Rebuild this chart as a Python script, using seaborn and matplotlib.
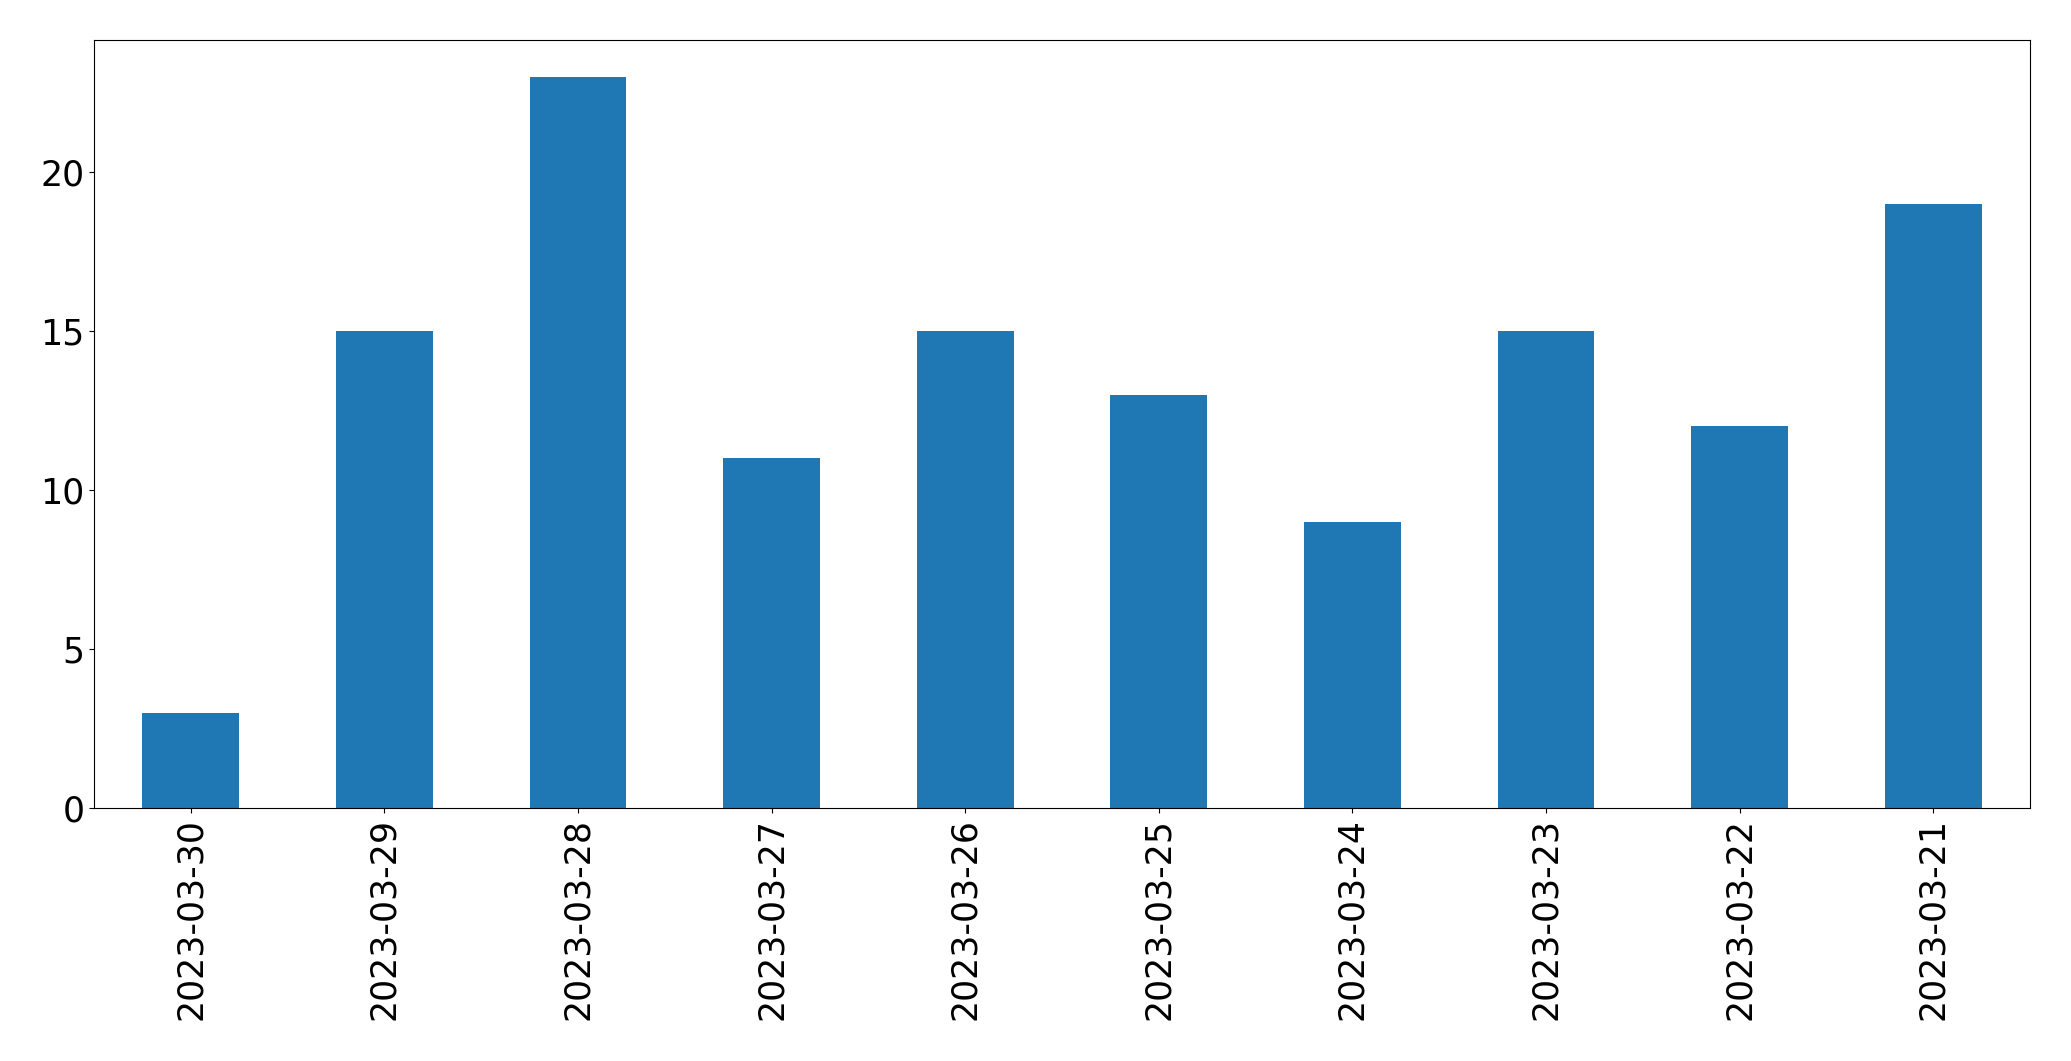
import matplotlib
matplotlib.use("Agg")
import matplotlib.pyplot as plt
import seaborn as sns
import pandas as pd

dates = ["2023-03-30", "2023-03-29", "2023-03-28", "2023-03-27", "2023-03-26",
         "2023-03-25", "2023-03-24", "2023-03-23", "2023-03-22", "2023-03-21"]
counts = [3, 15, 23, 11, 15, 13, 9, 15, 12, 19]

df = pd.DataFrame({"date": dates, "count": counts})

fig = plt.figure(figsize=(20.71, 10.61), dpi=100)
ax = fig.add_axes([94 / 2071, 1 - 808 / 1061, (2030 - 94) / 2071, (808 - 40) / 1061])
sns.barplot(data=df, x="date", y="count", order=dates, color="#1f77b4",
            saturation=1, width=0.5, linewidth=0, ax=ax)
ax.set_xlim(-0.5, len(dates) - 0.5)
ax.set_ylim(0, max(counts) * 1.05)
ax.set_xlabel("")
ax.set_ylabel("")
ax.tick_params(axis="both", labelsize=25)
plt.setp(ax.get_xticklabels(), rotation=90)
fig.savefig("out.png", dpi=100)
